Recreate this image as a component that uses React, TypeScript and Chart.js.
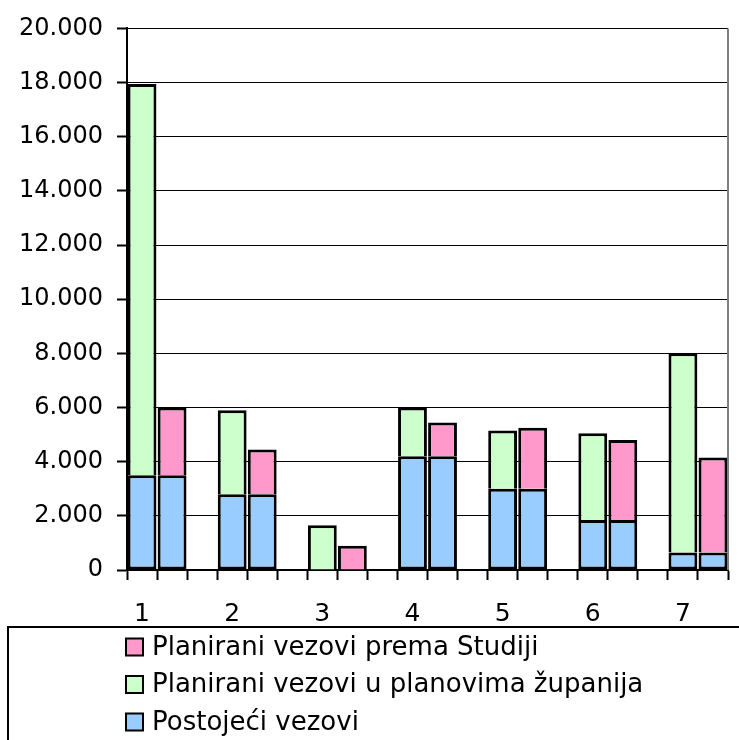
import React, { useEffect, useRef } from "react";
import { Chart, registerables } from "chart.js";

Chart.register(...registerables);

// Slots: each region has two bars (left: with county plans, right: per Study) and a gap slot
const slotLabels = ["1", "", "", "2", "", "", "3", "", "", "4", "", "", "5", "", "", "6", "", "", "7", ""];

// Postojeći vezovi (existing berths) per region
const existing = [3500, 2800, 0, 4200, 3000, 1850, 650];
// Planirani vezovi u planovima županija (planned in county plans)
const plannedCounty = [14450, 3100, 1650, 1800, 2150, 3200, 7350];
// Planirani vezovi prema Studiji (planned per Study)
const plannedStudy = [2500, 1650, 900, 1250, 2250, 2950, 3500];

const seriesNames = [
  "Postojeći vezovi",
  "Planirani vezovi u planovima županija",
  "Planirani vezovi prema Studiji",
];
const seriesColors = ["#99CCFF", "#CCFFCC", "#FF99CC"];

const yMax = 20000;
const yStep = 2000;

function toSlots(values: number[], left: boolean, right: boolean): (number | null)[] {
  const out: (number | null)[] = [];
  values.forEach((v, i) => {
    out.push(left ? v : null);
    out.push(right ? v : null);
    if (i < values.length - 1) out.push(null);
  });
  return out;
}

function fmt(v: number): string {
  if (v >= 1000) {
    const th = Math.floor(v / 1000);
    const rest = String(v % 1000).padStart(3, "0");
    return `${th}.${rest}`;
  }
  return String(v);
}

const FONT = "'DejaVu Sans', sans-serif";

const legendPlugin = {
  id: "boxLegend",
  afterDraw(chart: any) {
    const ctx = chart.ctx as CanvasRenderingContext2D;
    ctx.save();
    // right plot border
    const ca = chart.chartArea;
    ctx.strokeStyle = "#808080";
    ctx.lineWidth = 2;
    ctx.beginPath();
    ctx.moveTo(ca.right, ca.top);
    ctx.lineTo(ca.right, ca.bottom);
    ctx.stroke();

    // legend box
    ctx.strokeStyle = "#000";
    ctx.lineWidth = 2;
    ctx.strokeRect(8, 627, 760, 200);
    const ds = chart.data.datasets.slice().reverse();
    ds.forEach((d: any, i: number) => {
      const cy = 647 + i * 37.5;
      ctx.fillStyle = d.backgroundColor;
      ctx.fillRect(126, cy - 8.5, 17, 17);
      ctx.strokeStyle = "#000";
      ctx.lineWidth = 2;
      ctx.strokeRect(126, cy - 8.5, 17, 17);
      ctx.fillStyle = "#000";
      ctx.font = `26px ${FONT}`;
      ctx.textBaseline = "middle";
      ctx.textAlign = "left";
      ctx.fillText(d.label, 152, cy + 1);
    });
    ctx.restore();
  },
};

export default function App() {
  const ref = useRef<HTMLCanvasElement | null>(null);
  useEffect(() => {
    document.body.style.margin = "0";
    const canvas = ref.current!;
    const chart = new Chart(canvas, {
      type: "bar",
      data: {
        labels: slotLabels,
        datasets: [
          {
            label: seriesNames[0],
            data: toSlots(existing, true, true),
            backgroundColor: seriesColors[0],
            borderColor: "#000",
            borderWidth: (c: any) => (c.raw ? 3 : 0),
            borderSkipped: false,
          },
          {
            label: seriesNames[1],
            data: toSlots(plannedCounty, true, false),
            backgroundColor: seriesColors[1],
            borderColor: "#000",
            borderWidth: 3,
            borderSkipped: "start",
          },
          {
            label: seriesNames[2],
            data: toSlots(plannedStudy, false, true),
            backgroundColor: seriesColors[2],
            borderColor: "#000",
            borderWidth: 3,
            borderSkipped: "start",
          },
        ],
      },
      options: {
        responsive: false,
        animation: false,
        datasets: { bar: { categoryPercentage: 1, barPercentage: 0.96 } },
        layout: { padding: { top: 26, right: 11, left: 0, bottom: 0 } },
        plugins: { legend: { display: false }, tooltip: { enabled: false } },
        scales: {
          x: {
            stacked: true,
            afterFit: (s: any) => {
              s.height = 170;
            },
            grid: {
              offset: true,
              drawOnChartArea: false,
              drawTicks: true,
              tickLength: 10,
              tickWidth: 2,
              tickColor: "#000",
            },
            border: { color: "#000", width: 2 },
            ticks: {
              autoSkip: false,
              maxRotation: 0,
              color: "#000",
              font: { family: FONT, size: 25 },
              padding: 19,
            },
          },
          y: {
            stacked: true,
            min: 0,
            max: yMax,
            afterFit: (s: any) => {
              s.width = 127;
            },
            grid: {
              color: "#000",
              lineWidth: 1,
              tickLength: 10,
              tickWidth: 2,
              tickColor: "#000",
            },
            border: { color: "#000", width: 2 },
            ticks: {
              stepSize: yStep,
              color: "#000",
              font: { family: FONT, size: 24 },
              padding: 14,
              callback: (v: any) => fmt(Number(v)),
            },
          },
        },
      },
      plugins: [legendPlugin],
    } as any);
    return () => chart.destroy();
  }, []);
  return (
    <div style={{ width: 739, height: 740, overflow: "hidden" }}>
      <canvas ref={ref} width={739} height={740} style={{ display: "block" }} />
    </div>
  );
}
